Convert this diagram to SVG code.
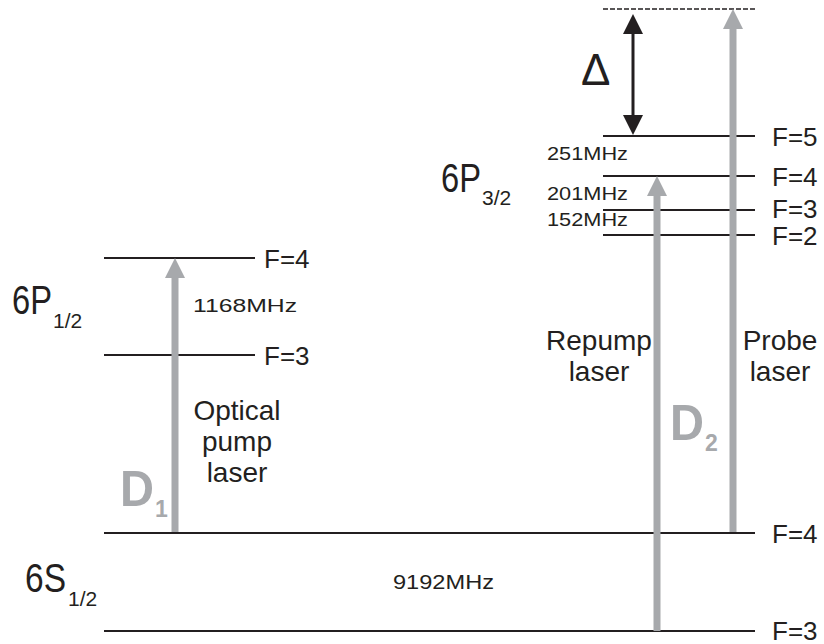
<svg xmlns="http://www.w3.org/2000/svg" width="824" height="644" viewBox="0 0 824 644">
<style>
.lvl{stroke:#231f20;stroke-width:2;fill:none}
.t{font-family:"Liberation Sans",Arial,sans-serif;fill:#231f20}
.f{font-size:26px}
.big{font-size:40px}
.sub{font-size:21px}
.mhz{font-size:18px}
.lab{font-size:28px;text-anchor:middle}
.gray{stroke:#a7a9ac;stroke-width:7;fill:none}
.grayhead{fill:#a7a9ac}
.dl{font-family:"Liberation Sans",Arial,sans-serif;font-weight:bold;fill:#a7a9ac}
</style>
<rect width="824" height="644" fill="#ffffff"/>
<g id="levels">
  <g id="s12-f3"><line class="lvl" x1="104" y1="631" x2="755" y2="631"/><text class="t f" x="772" y="640">F=3</text></g>
  <g id="s12-f4"><line class="lvl" x1="104" y1="533" x2="755" y2="533"/><text class="t f" x="772" y="543">F=4</text></g>
  <g id="p12-f3"><line class="lvl" x1="104" y1="355" x2="255" y2="355"/><text class="t f" x="264" y="365">F=3</text></g>
  <g id="p12-f4"><line class="lvl" x1="104" y1="258" x2="255" y2="258"/><text class="t f" x="264" y="268">F=4</text></g>
  <g id="p32-f2"><line class="lvl" x1="603" y1="235" x2="755" y2="235"/><text class="t f" x="772" y="245">F=2</text></g>
  <g id="p32-f3"><line class="lvl" x1="603" y1="210" x2="755" y2="210"/><text class="t f" x="772" y="218">F=3</text></g>
  <g id="p32-f4"><line class="lvl" x1="603" y1="176" x2="755" y2="176"/><text class="t f" x="772" y="186">F=4</text></g>
  <g id="p32-f5"><line class="lvl" x1="603" y1="136" x2="755" y2="136"/><text class="t f" x="772" y="146">F=5</text></g>
  <g id="virtual"><line x1="603" y1="9" x2="756" y2="9" stroke="#231f20" stroke-width="1.5" stroke-dasharray="5 2"/></g>
</g>
<g id="state-labels">
  <g id="lbl-6p12"><text class="t big" x="12" y="314" textLength="40" lengthAdjust="spacingAndGlyphs">6P</text><text class="t sub" x="53" y="328">1/2</text></g>
  <g id="lbl-6p32"><text class="t big" x="441" y="192" textLength="40" lengthAdjust="spacingAndGlyphs">6P</text><text class="t sub" x="482" y="205">3/2</text></g>
  <g id="lbl-6s12"><text class="t big" x="25" y="592" textLength="41" lengthAdjust="spacingAndGlyphs">6S</text><text class="t sub" x="68" y="606">1/2</text></g>
</g>
<g id="splittings">
  <text class="t mhz" x="193" y="312" textLength="104" lengthAdjust="spacingAndGlyphs">1168MHz</text>
  <text class="t" x="393" y="589" font-size="20" textLength="101" lengthAdjust="spacingAndGlyphs">9192MHz</text>
  <text class="t mhz" x="547" y="160" textLength="81" lengthAdjust="spacingAndGlyphs">251MHz</text>
  <text class="t mhz" x="547" y="200" textLength="81" lengthAdjust="spacingAndGlyphs">201MHz</text>
  <text class="t mhz" x="547" y="226" textLength="81" lengthAdjust="spacingAndGlyphs">152MHz</text>
</g>
<g id="connectors">
  <g id="d1-arrow"><line class="gray" x1="175" y1="532" x2="175" y2="276"/><polygon class="grayhead" points="175,258 165,278 185,278"/></g>
  <g id="repump-arrow"><line class="gray" x1="657" y1="631" x2="657" y2="194"/><polygon class="grayhead" points="657,176 647,196 667,196"/></g>
  <g id="probe-arrow"><line class="gray" x1="733" y1="532" x2="733" y2="27"/><polygon class="grayhead" points="733,9 723,29 743,29"/></g>
  <g id="delta-arrow"><line x1="633" y1="30" x2="633" y2="118" stroke="#231f20" stroke-width="3"/><polygon fill="#231f20" points="633,14 623,34 643,34"/><polygon fill="#231f20" points="633,135 623,115 643,115"/></g>
</g>
<g id="laser-labels">
  <text class="t" x="581" y="85" font-size="44">Δ</text>
  <g id="optical"><text class="t lab" x="237" y="420">Optical</text><text class="t lab" x="237" y="451">pump</text><text class="t lab" x="237" y="482">laser</text></g>
  <g id="repump"><text class="t lab" x="599" y="350">Repump</text><text class="t lab" x="599" y="381">laser</text></g>
  <g id="probe"><text class="t lab" x="780" y="350">Probe</text><text class="t lab" x="780" y="381">laser</text></g>
  <g id="d1"><text class="dl" x="120" y="506" font-size="50" textLength="34" lengthAdjust="spacingAndGlyphs">D</text><text class="dl" x="155" y="517" font-size="23">1</text></g>
  <g id="d2"><text class="dl" x="670" y="440" font-size="50" textLength="34" lengthAdjust="spacingAndGlyphs">D</text><text class="dl" x="705" y="451" font-size="23">2</text></g>
</g>
</svg>
